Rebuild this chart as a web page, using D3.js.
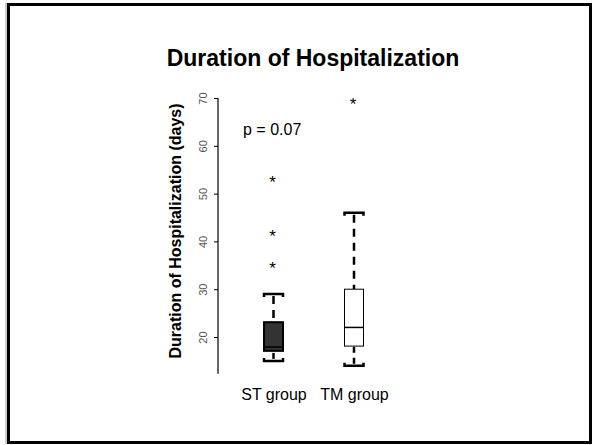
<!DOCTYPE html>
<html>
<head>
<meta charset="utf-8">
<script src="https://cdn.jsdelivr.net/npm/d3@7"></script>
<style>
  body { margin: 0; background: #fff; }
  text { font-family: Arial, "Liberation Sans", sans-serif; }
</style>
</head>
<body>
<svg id="chart" width="592" height="445"></svg>
<script>
// values
var categories = ["ST group", "TM group"];
var whiskerLow = [15, 14];
var q1 = [17.1, 18.1];
var median = [17.9, 22];
var q3 = [23.1, 30];
var whiskerHigh = [29, 46];
var outliersST = [35.3, 42, 53.3];
var outliersTM = [69.6];
var yTicks = [20, 30, 40, 50, 60, 70];

var svg = d3.select("#chart");

// slide frame
svg.append("line").attr("x1", 6).attr("x2", 6).attr("y1", 3).attr("y2", 444)
  .attr("stroke", "#999").attr("stroke-width", 1);
svg.append("rect").attr("x", 8.5).attr("y", 4.5).attr("width", 582).attr("height", 438)
  .attr("fill", "none").attr("stroke", "#000").attr("stroke-width", 3);

svg.append("text")
  .attr("x", 313).attr("y", 66)
  .attr("text-anchor", "middle")
  .attr("font-size", 23).attr("font-weight", "bold")
  .text("Duration of Hospitalization");

var y = d3.scaleLinear().domain([20, 70]).range([337, 98]);
var x = d3.scalePoint().domain(categories).range([273.5, 354]);
var boxW = 19;

// y axis
var yAxis = svg.append("g").attr("transform", "translate(218,0)")
  .call(d3.axisLeft(y).tickValues(yTicks).tickSize(4).tickSizeOuter(0));
yAxis.select(".domain").remove();
yAxis.selectAll("line").attr("stroke", "#000");
yAxis.selectAll("text")
  .attr("x", null).attr("dy", null)
  .attr("transform", "translate(-11,0) rotate(-90)")
  .attr("text-anchor", "middle")
  .attr("font-family", "'Liberation Serif', serif")
  .attr("font-size", 11).attr("fill", "#555");
svg.append("line")
  .attr("x1", 218).attr("x2", 218)
  .attr("y1", y(70)).attr("y2", y(12.3))
  .attr("stroke", "#000").attr("stroke-width", 1.2);

svg.append("text")
  .attr("transform", "translate(181,231) rotate(-90)")
  .attr("text-anchor", "middle")
  .attr("font-size", 16).attr("font-weight", "bold")
  .text("Duration of Hospitalization (days)");

// x labels
var xAxis = svg.append("g").attr("transform", "translate(0,386)")
  .call(d3.axisBottom(x).tickSize(0).tickPadding(3));
xAxis.select(".domain").remove();
xAxis.selectAll("text").attr("font-size", 16).attr("font-family", "Arial, 'Liberation Sans', sans-serif");

var boxes = categories.map(function (c, i) {
  return { cat: c, lo: whiskerLow[i], q1: q1[i], med: median[i], q3: q3[i], hi: whiskerHigh[i],
           fill: i === 0 ? "#333" : "#fff", sw: i === 0 ? 2 : 1 };
});

var g = svg.append("g");

// whiskers
g.selectAll(".wup").data(boxes).join("line").attr("class", "wup")
  .attr("x1", d => x(d.cat)).attr("x2", d => x(d.cat))
  .attr("y1", d => y(d.hi) + 2).attr("y2", d => y(d.q3))
  .attr("stroke", "#000").attr("stroke-width", 2.5).attr("stroke-dasharray", "8,6");
g.selectAll(".wlo").data(boxes).join("line").attr("class", "wlo")
  .attr("x1", d => x(d.cat)).attr("x2", d => x(d.cat))
  .attr("y1", d => y(d.lo) - 2).attr("y2", d => y(d.q1))
  .attr("stroke", "#000").attr("stroke-width", 2.5).attr("stroke-dasharray", "6,5");

// caps
g.selectAll(".capup").data(boxes).join("path").attr("class", "capup")
  .attr("d", d => "M" + (x(d.cat) - boxW / 2) + "," + (y(d.hi) + 3) + "V" + y(d.hi) +
    "H" + (x(d.cat) + boxW / 2) + "V" + (y(d.hi) + 3))
  .attr("fill", "none").attr("stroke", "#000").attr("stroke-width", 2.5);
g.selectAll(".caplo").data(boxes).join("path").attr("class", "caplo")
  .attr("d", d => "M" + (x(d.cat) - boxW / 2) + "," + (y(d.lo) - 3) + "V" + y(d.lo) +
    "H" + (x(d.cat) + boxW / 2) + "V" + (y(d.lo) - 3))
  .attr("fill", "none").attr("stroke", "#000").attr("stroke-width", 2.5);

// boxes
g.selectAll(".box").data(boxes).join("rect").attr("class", "box")
  .attr("x", d => x(d.cat) - boxW / 2).attr("width", boxW)
  .attr("y", d => y(d.q3)).attr("height", d => y(d.q1) - y(d.q3))
  .attr("fill", d => d.fill).attr("stroke", "#000").attr("stroke-width", d => d.sw);
g.selectAll(".med").data(boxes).join("line").attr("class", "med")
  .attr("x1", d => x(d.cat) - boxW / 2).attr("x2", d => x(d.cat) + boxW / 2)
  .attr("y1", d => y(d.med)).attr("y2", d => y(d.med))
  .attr("stroke", "#000").attr("stroke-width", 1.5);

// outliers
var outliers = outliersST.map(v => ({ cat: categories[0], v: v }))
  .concat(outliersTM.map(v => ({ cat: categories[1], v: v })));
g.selectAll(".out").data(outliers).join("text").attr("class", "out")
  .attr("x", d => x(d.cat) - 1).attr("y", d => y(d.v) + 10)
  .attr("text-anchor", "middle")
  .attr("font-size", 17)
  .text("*");

svg.append("text")
  .attr("x", 243).attr("y", 135)
  .attr("font-size", 16)
  .text("p = 0.07");
</script>
</body>
</html>
